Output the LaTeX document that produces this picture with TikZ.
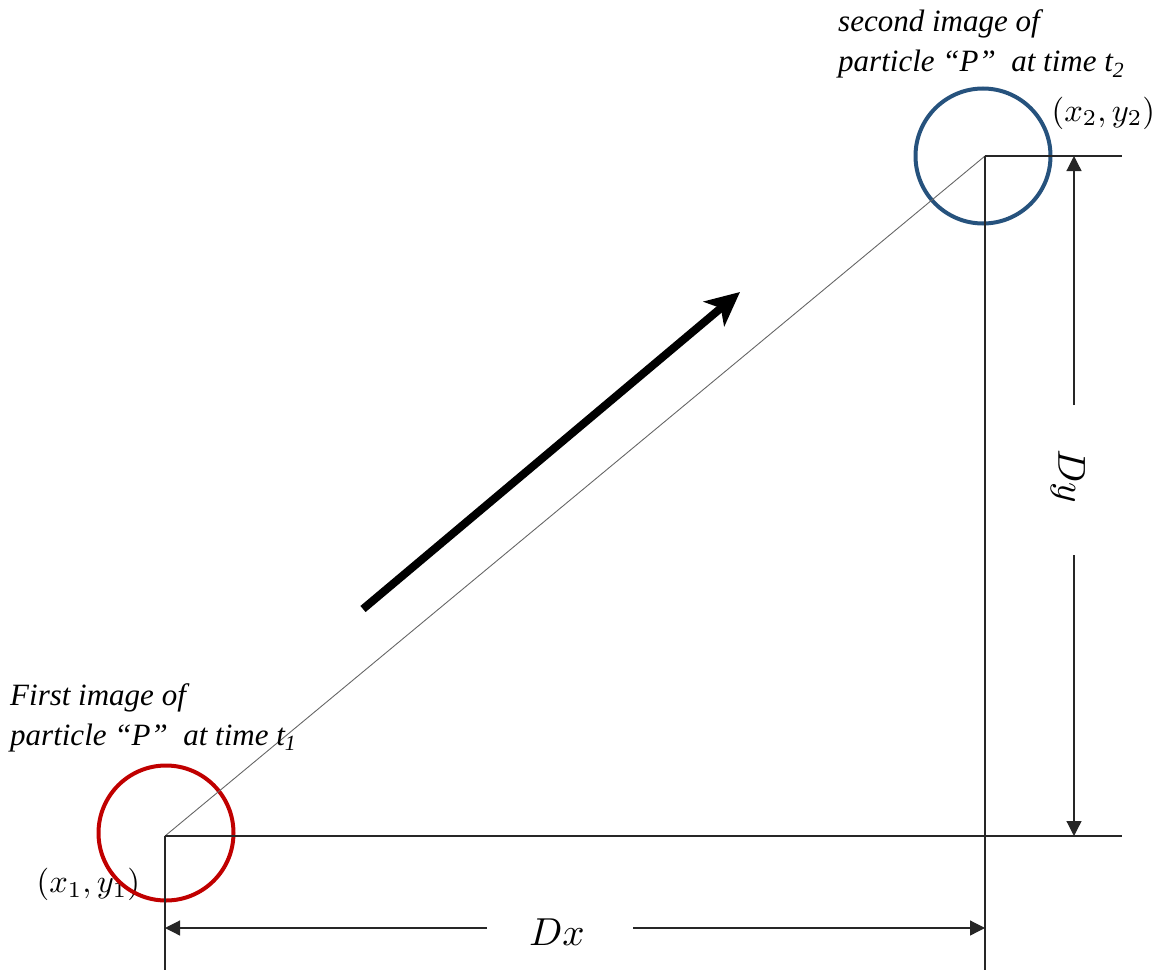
\documentclass[tikz,border=0pt]{standalone}
\usepackage{fontspec}
\setmainfont{Liberation Serif}
\usetikzlibrary{arrows.meta}
\definecolor{pred}{RGB}{192,0,0}
\definecolor{pblue}{RGB}{38,82,125}
\begin{document}
\begin{tikzpicture}[x=1pt,y=-1pt,
  thinline/.style={line width=1.2pt,black!85},
  diag/.style={line width=0.9pt,black!60},
  dimarrow/.style={line width=1.2pt,black!85,-{Triangle[length=15pt,width=15pt]}},
  ptcircle/.style={circle,draw,line width=4pt,minimum size=135pt,inner sep=0pt},
  caption/.style={font=\fontsize{31}{40}\selectfont\itshape,align=left,inner sep=0pt},
  coordlabel/.style={inner sep=0pt,scale=3.25},
  dimlabel/.style={inner sep=0pt,scale=3.9}]
\useasboundingbox (0,0) rectangle (1167,974);
% points
\coordinate (p1) at (165,836);
\coordinate (p2) at (985,156);
\coordinate (h1end) at (1122,836);
\coordinate (h2end) at (1122,156);
\coordinate (v1end) at (165,970);
\coordinate (v2end) at (985,970);
% labels under the circles
\node[coordlabel,anchor=west] (xy2) at (1051,113) {$(x_2,y_2)$};
\node[coordlabel,anchor=west] (xy1) at (36,884) {$(x_1,y_1)$};
% circles
\node[ptcircle,draw=pred] (c1) at (166,833) {};
\node[ptcircle,draw=pblue] (c2) at (983,156) {};
% frame lines
\draw[diag] (p1) -- (p2);
\draw[thinline] (p1) -- (h1end);
\draw[thinline] (p2) -- (h2end);
\draw[thinline] (p1) -- (v1end);
\draw[thinline] (p2) -- (v2end);
% Dx dimension
\coordinate (dxl) at (165,928);
\coordinate (dxr) at (985,928);
\node[dimlabel] (dx) at (557,932) {$Dx$};
\coordinate (dxgl) at (487,928);
\coordinate (dxgr) at (633,928);
\draw[dimarrow] (dxgl) -- (dxl);
\draw[dimarrow] (dxgr) -- (dxr);
% Dy dimension
\coordinate (dyt) at (1074,156);
\coordinate (dyb) at (1074,836);
\coordinate (dygt) at (1074,405);
\coordinate (dygb) at (1074,555);
\node[dimlabel,rotate=-90] (dy) at (1068,476) {$Dy$};
\draw[dimarrow] (dygt) -- (dyt);
\draw[dimarrow] (dygb) -- (dyb);
% motion arrow
\coordinate (ma) at (363,609);
\coordinate (mb) at (740,292);
\draw[line width=8pt,-{Stealth[length=34pt,width=32pt,inset=9pt]}] (ma) -- (mb);
% captions
\node[caption,anchor=base west] (t2) at (838,72) {second image of\\particle “P” \ at time \textit{t}\textsubscript{2}};
\node[caption,anchor=base west] (t1) at (10,745) {First image of\\particle “P” \ at time \textit{t}\textsubscript{1}};
\end{tikzpicture}
\end{document}
